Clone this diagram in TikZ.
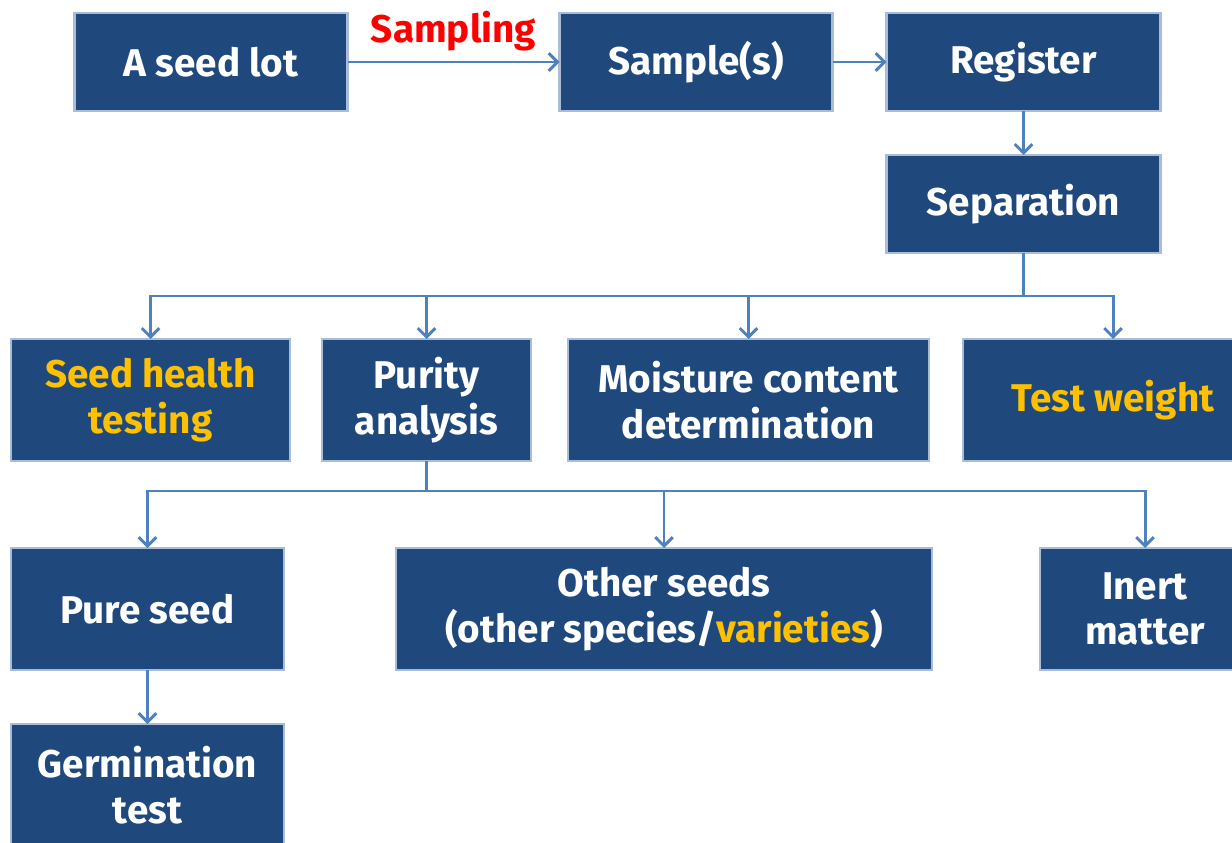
\documentclass[tikz,border=0pt]{standalone}
\usepackage{fontspec}
\setmainfont{Fira Sans}
\usetikzlibrary{positioning,arrows.meta}
\definecolor{boxblue}{HTML}{1F497D}
\definecolor{rimblue}{HTML}{A9BDDA}
\definecolor{linkblue}{HTML}{4F81BD}
\definecolor{gold}{HTML}{FFC000}
\tikzset{
	stepbox/.style={draw=rimblue, line width=1.6pt, fill=boxblue, text=white,
		font=\fontsize{22}{26}\selectfont\bfseries, align=center,
		minimum height=2.44cm, inner sep=0pt, outer sep=0pt},
	topbox/.style={stepbox, minimum height=1.96cm},
	link/.style={draw=linkblue, line width=1.7pt},
	flow/.style={link, -{Straight Barb[length=5pt,width=10pt]}}
}

\begin{document}
\begin{tikzpicture}
	\useasboundingbox (0,0) rectangle (24.64,-16.86);

	\node [topbox, minimum width=5.46cm] (lot) at (4.22,-1.24) {A seed lot};
	\node [topbox, minimum width=5.46cm, right=4.24cm of lot] (sample) {Sample(s)};
	\node [topbox, minimum width=5.48cm, right=1.08cm of sample] (register) {Register};
	\node [topbox, minimum width=5.48cm, below=0.88cm of register] (sep) {Separation};

	\node [stepbox, minimum width=5.58cm, text=gold] (health) at (3.01,-8.0) {Seed health\\testing};
	\node [stepbox, minimum width=4.18cm, right=0.64cm of health] (purity) {Purity\\analysis};
	\node [stepbox, minimum width=7.22cm, right=0.74cm of purity] (moisture) {Moisture content\\determination};
	\node [stepbox, minimum width=6.0cm, text=gold, right=0.68cm of moisture] (weight) {Test weight};

	\node [stepbox, minimum width=5.46cm] (pure) at (2.95,-12.18) {Pure seed};
	\node [stepbox, minimum width=10.72cm, right=2.24cm of pure] (other) {Other seeds\\(other species/\textcolor{gold}{varieties})};
	\node [stepbox, minimum width=4.2cm, right=2.16cm of other] (inert) {Inert\\matter};

	\node [stepbox, minimum width=5.46cm, below=1.08cm of pure] (germ) {Germination\\test};

	\draw [flow] (lot) -- node [above=2pt, text=red, font=\fontsize{22}{26}\selectfont\bfseries] (sampling) {Sampling} (sample);
	\draw [flow] (sample) -- (register);
	\draw [flow] (register) -- (sep);

	\draw [link] (sep.south) -- ++(0,-0.86) coordinate (fork1);
	\draw [flow] (fork1) -| (health);
	\draw [flow] (fork1) -| (purity);
	\draw [flow] (fork1) -| (moisture);
	\draw [flow] (fork1) -| (weight);

	\draw [link] (purity.south) -- ++(0,-0.6) coordinate (fork2);
	\draw [flow] (fork2) -| (pure);
	\draw [flow] (fork2) -| (other);
	\draw [flow] (fork2) -| (inert);

	\draw [flow] (pure) -- (germ);
\end{tikzpicture}
\end{document}
